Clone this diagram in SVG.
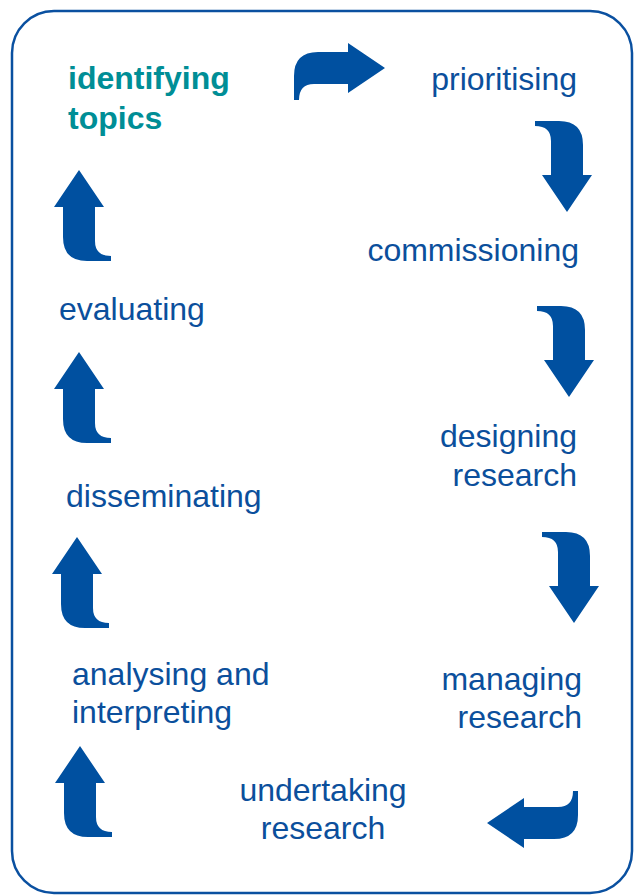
<svg xmlns="http://www.w3.org/2000/svg" xmlns:xlink="http://www.w3.org/1999/xlink" width="634" height="896" viewBox="0 0 634 896">
  <style>
    .lbl { font-family: "Liberation Sans", Arial, sans-serif; font-size: 32px; fill: #0b4f9c; }
    .start { text-anchor: start; }
    .end { text-anchor: end; }
    .mid { text-anchor: middle; }
    .key { font-weight: bold; fill: #008e96; }
    .arrow { fill: #0050a0; }
  </style>
  <defs>
    <path id="bent" d="M-91,32 L-91,8 Q-91,-16 -67,-16 L-37,-16 L-37,-25 L0,0 L-37,25 L-37,16 L-71,16 Q-86,16 -86,32 Z"/>
  </defs>
  <rect x="12" y="11" width="620" height="882" rx="42" ry="42" fill="#ffffff" stroke="#0a50a0" stroke-width="2.5"/>

  <g id="connectors">
    <use xlink:href="#bent" href="#bent" class="arrow" transform="translate(385,68)"/>
    <use xlink:href="#bent" href="#bent" class="arrow" transform="translate(567,212) rotate(90)"/>
    <use xlink:href="#bent" href="#bent" class="arrow" transform="translate(569,397) rotate(90)"/>
    <use xlink:href="#bent" href="#bent" class="arrow" transform="translate(574,623) rotate(90)"/>
    <use xlink:href="#bent" href="#bent" class="arrow" transform="translate(487,823) rotate(180)"/>
    <use xlink:href="#bent" href="#bent" class="arrow" transform="translate(80,746) rotate(-90)"/>
    <use xlink:href="#bent" href="#bent" class="arrow" transform="translate(77,537) rotate(-90)"/>
    <use xlink:href="#bent" href="#bent" class="arrow" transform="translate(79,352) rotate(-90)"/>
    <use xlink:href="#bent" href="#bent" class="arrow" transform="translate(79,170) rotate(-90)"/>
  </g>

  <g id="identifying-topics">
    <text class="lbl key start" x="68" y="89">identifying</text>
    <text class="lbl key start" x="68" y="129">topics</text>
  </g>
  <g id="prioritising">
    <text class="lbl end" x="577" y="90">prioritising</text>
  </g>
  <g id="commissioning">
    <text class="lbl end" x="579" y="261">commissioning</text>
  </g>
  <g id="designing-research">
    <text class="lbl end" x="577" y="447">designing</text>
    <text class="lbl end" x="577" y="486">research</text>
  </g>
  <g id="managing-research">
    <text class="lbl end" x="582" y="690">managing</text>
    <text class="lbl end" x="582" y="728">research</text>
  </g>
  <g id="undertaking-research">
    <text class="lbl mid" x="323" y="801">undertaking</text>
    <text class="lbl mid" x="323" y="839">research</text>
  </g>
  <g id="analysing-interpreting">
    <text class="lbl start" x="72" y="685">analysing and</text>
    <text class="lbl start" x="72" y="723">interpreting</text>
  </g>
  <g id="disseminating">
    <text class="lbl start" x="66" y="507">disseminating</text>
  </g>
  <g id="evaluating">
    <text class="lbl start" x="59" y="320">evaluating</text>
  </g>
</svg>
